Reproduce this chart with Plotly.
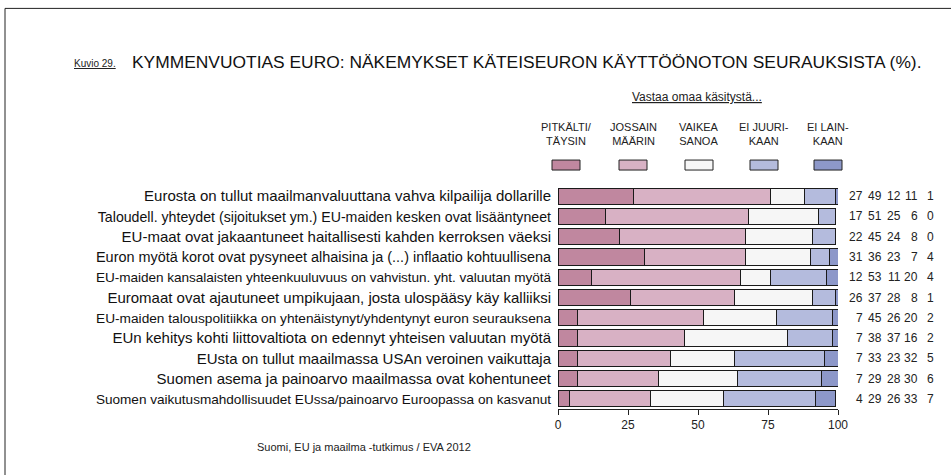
import plotly.graph_objects as go

W, H = 951, 475

categories = [
    "Eurosta on tullut maailmanvaluuttana vahva kilpailija dollarille",
    "Taloudell. yhteydet (sijoitukset ym.) EU-maiden kesken ovat lisääntyneet",
    "EU-maat ovat jakaantuneet haitallisesti kahden kerroksen väeksi",
    "Euron myötä korot ovat pysyneet alhaisina ja (...) inflaatio kohtuullisena",
    "EU-maiden kansalaisten yhteenkuuluvuus on vahvistun. yht. valuutan myötä",
    "Euromaat ovat ajautuneet umpikujaan, josta ulospääsy käy kalliiksi",
    "EU-maiden talouspolitiikka on yhtenäistynyt/yhdentynyt euron seurauksena",
    "EUn kehitys kohti liittovaltiota on edennyt yhteisen valuutan myötä",
    "EUsta on tullut maailmassa USAn veroinen vaikuttaja",
    "Suomen asema ja painoarvo maailmassa ovat kohentuneet",
    "Suomen vaikutusmahdollisuudet EUssa/painoarvo Euroopassa on kasvanut",
]

series_names = ["PITKÄLTI/<br>TÄYSIN", "JOSSAIN<br>MÄÄRIN", "VAIKEA<br>SANOA",
                "EI JUURI-<br>KAAN", "EI LAIN-<br>KAAN"]

pitkalti = [27, 17, 22, 31, 12, 26, 7, 7, 7, 7, 4]
jossain = [49, 51, 45, 36, 53, 37, 45, 38, 33, 29, 29]
vaikea = [12, 25, 24, 23, 11, 28, 26, 37, 23, 28, 26]
ei_juuri = [11, 6, 8, 7, 20, 8, 20, 16, 32, 30, 33]
ei_lain = [1, 0, 0, 4, 4, 1, 2, 2, 5, 6, 7]

series_values = [pitkalti, jossain, vaikea, ei_juuri, ei_lain]
colors = ["#c0879f", "#d8b1c4", "#f6f6f6", "#b4bbdd", "#8d98c9"]

tick_vals = [0, 25, 50, 75, 100]
tick_text = ["0", "25", "50", "75", "100"]

title_prefix = "Kuvio 29."
title_text = "KYMMENVUOTIAS EURO: NÄKEMYKSET KÄTEISEURON KÄYTTÖÖNOTON SEURAUKSISTA (%)."
legend_header = "Vastaa omaa käsitystä..."
source_text = "Suomi, EU ja maailma -tutkimus / EVA 2012"

# plot area in pixels
L, R = 558, 838
T, B = 186, 409.5
FONT = "Liberation Sans, Arial, sans-serif"

# approximate Arial/Liberation Sans advance widths (1/1000 em)
_CW = {" ": 278, "i": 222, "j": 222, "l": 222, "f": 278, "t": 278, "r": 333,
       "m": 833, "w": 722, "c": 500, "k": 500, "s": 500, "v": 500, "x": 500,
       "y": 500, "z": 500, ".": 278, ",": 278, "/": 278, "-": 333, "(": 333,
       ")": 333, "E": 667, "U": 722, "S": 667, "A": 667, "T": 611, "N": 722}


def text_w(s, size):
    return sum(_CW.get(ch, 556) for ch in s) * size / 1000.0


LABEL_SIZE = 15
MIN_LABEL_SIZE = 13.6
MAX_LABEL_W = 455


def fit_label(s):
    size = LABEL_SIZE
    w = text_w(s, size)
    if w <= MAX_LABEL_W:
        return s
    size = max(MIN_LABEL_SIZE, size * MAX_LABEL_W / w)
    w = text_w(s, size)
    ls = min(0.0, (MAX_LABEL_W - w) / len(s))
    return ('<span style="font-size:%.2fpx;letter-spacing:%.2fpx">%s</span>'
            % (size, ls, s))


def px(x):
    return (x - L) / (R - L)


def py(y):
    return (B - y) / (B - T)


fig = go.Figure()
for name, vals, col in zip(series_names, series_values, colors):
    fig.add_trace(go.Bar(
        y=categories, x=vals, name=name, orientation="h",
        marker=dict(color=col, line=dict(color="#1a1a1a", width=1)),
        showlegend=False,
    ))

annotations = []
shapes = []

# value columns on the right
col_x = [865, 884, 903, 920, 936]
for vals, cx in zip(series_values, col_x):
    for cat, v in zip(categories, vals):
        annotations.append(dict(
            x=px(cx), xref="paper", y=cat, yref="y", text=str(v),
            showarrow=False, xanchor="right", yanchor="middle",
            font=dict(size=12, color="#222", family=FONT)))

# custom legend
leg_x = [566, 633, 699, 764, 828]
for name, col, lx in zip(series_names, colors, leg_x):
    annotations.append(dict(
        x=px(lx), xref="paper", y=py(134), yref="paper", text=name,
        showarrow=False, xanchor="center", yanchor="middle",
        font=dict(size=11, color="#222", family=FONT)))
    shapes.append(dict(
        type="rect", xref="paper", yref="paper",
        x0=px(lx - 14), x1=px(lx + 14), y0=py(170), y1=py(160),
        fillcolor=col, line=dict(color="#222", width=1)))

annotations.append(dict(
    x=px(697), xref="paper", y=py(97), yref="paper",
    text="<u>" + legend_header + "</u>", showarrow=False,
    xanchor="center", yanchor="middle",
    font=dict(size=12, color="#222", family=FONT)))

annotations.append(dict(
    x=px(118), xref="paper", y=py(63), yref="paper",
    text="<u>" + title_prefix + "</u>", showarrow=False,
    xanchor="right", yanchor="middle",
    font=dict(size=10, color="#222", family=FONT)))
annotations.append(dict(
    x=px(130), xref="paper", y=py(62), yref="paper",
    text=title_text, showarrow=False,
    xanchor="left", yanchor="middle",
    font=dict(size=17.4, color="#111", family=FONT)))

annotations.append(dict(
    x=px(364), xref="paper", y=py(448), yref="paper",
    text=source_text, showarrow=False,
    xanchor="center", yanchor="middle",
    font=dict(size=11, color="#222", family=FONT)))

# frame lines (top and left)
shapes.append(dict(type="line", xref="paper", yref="paper",
                   x0=px(5), x1=px(960), y0=py(8), y1=py(8),
                   line=dict(color="#222", width=1)))
shapes.append(dict(type="line", xref="paper", yref="paper",
                   x0=px(5), x1=px(5), y0=py(8), y1=py(480),
                   line=dict(color="#222", width=1)))

fig.update_layout(
    width=W, height=H,
    margin=dict(l=L, r=W - R, t=T, b=H - B, pad=0),
    barmode="stack", bargap=0.2,
    plot_bgcolor="white", paper_bgcolor="white",
    font=dict(family=FONT, color="#111"),
    annotations=annotations, shapes=shapes,
    xaxis=dict(range=[0, 100], tickvals=tick_vals, ticktext=tick_text,
               showgrid=False, zeroline=False, showline=True,
               linecolor="#222", linewidth=1, ticks="outside", ticklen=5,
               tickcolor="#222", tickfont=dict(size=12, color="#222")),
    yaxis=dict(autorange="reversed", showgrid=False, zeroline=False,
               showline=False, ticks="", ticklabelstandoff=6,
               tickmode="array", tickvals=categories,
               ticktext=[fit_label(c) for c in categories],
               tickfont=dict(size=LABEL_SIZE, color="#111")),
)

fig.write_html("out.html",
               config={"displayModeBar": False},
               post_script="document.body.style.margin='0';")
